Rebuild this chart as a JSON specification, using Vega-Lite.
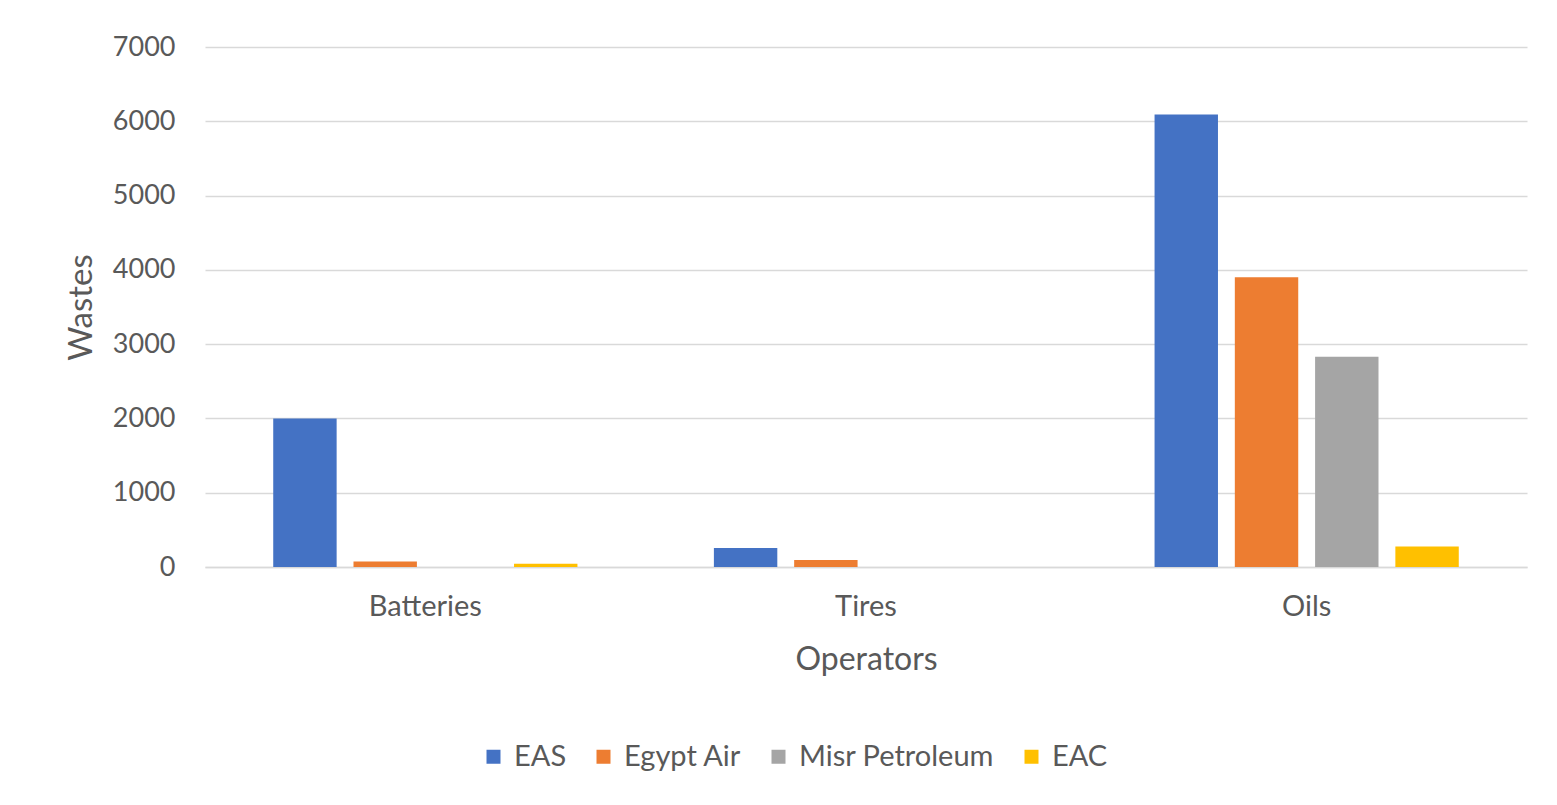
{
  "$schema": "https://vega.github.io/schema/vega-lite/v6.json",
  "width": 1322,
  "height": 520,
  "autosize": {"type": "none"},
  "padding": {"left": 205, "top": 47, "right": 30, "bottom": 238},
  "background": "white",
  "config": {
    "font": "Lato",
    "view": {"stroke": null},
    "axis": {"labelColor": "#595959", "titleColor": "#595959", "labelFont": "Lato", "titleFont": "Lato", "titleFontWeight": "normal"}
  },
  "data": {
    "values": [
      {"Category": "Batteries", "Operator": "EAS", "Wastes": 2000},
      {"Category": "Batteries", "Operator": "Egypt Air", "Wastes": 75},
      {"Category": "Batteries", "Operator": "Misr Petroleum", "Wastes": 0},
      {"Category": "Batteries", "Operator": "EAC", "Wastes": 45},
      {"Category": "Tires", "Operator": "EAS", "Wastes": 255},
      {"Category": "Tires", "Operator": "Egypt Air", "Wastes": 95},
      {"Category": "Tires", "Operator": "Misr Petroleum", "Wastes": 0},
      {"Category": "Tires", "Operator": "EAC", "Wastes": 0},
      {"Category": "Oils", "Operator": "EAS", "Wastes": 6090},
      {"Category": "Oils", "Operator": "Egypt Air", "Wastes": 3900},
      {"Category": "Oils", "Operator": "Misr Petroleum", "Wastes": 2830},
      {"Category": "Oils", "Operator": "EAC", "Wastes": 275}
    ]
  },
  "mark": {"type": "bar"},
  "encoding": {
    "x": {
      "field": "Category",
      "type": "nominal",
      "sort": ["Batteries", "Tires", "Oils"],
      "scale": {"paddingInner": 0, "paddingOuter": 0},
      "axis": {
        "title": "Operators",
        "titleFontSize": 32,
        "titlePadding": 23,
        "labelFontSize": 29,
        "labelAngle": 0,
        "labelPadding": 25,
        "ticks": false,
        "domain": true,
        "domainColor": "#d9d9d9",
        "domainWidth": 1.5,
        "grid": false
      }
    },
    "xOffset": {
      "field": "Operator",
      "type": "nominal",
      "sort": ["EAS", "Egypt Air", "Misr Petroleum", "EAC"],
      "scale": {"paddingInner": 0.21, "paddingOuter": 0.85}
    },
    "y": {
      "field": "Wastes",
      "type": "quantitative",
      "scale": {"domain": [0, 7000], "nice": false},
      "axis": {
        "title": "Wastes",
        "titleFontSize": 33,
        "titlePadding": 14,
        "labelFontSize": 27,
        "labelPadding": 30,
        "values": [0, 1000, 2000, 3000, 4000, 5000, 6000, 7000],
        "format": "d",
        "ticks": false,
        "domain": false,
        "grid": true,
        "gridColor": "#d9d9d9",
        "gridWidth": 1.5
      }
    },
    "color": {
      "field": "Operator",
      "type": "nominal",
      "sort": ["EAS", "Egypt Air", "Misr Petroleum", "EAC"],
      "scale": {
        "domain": ["EAS", "Egypt Air", "Misr Petroleum", "EAC"],
        "range": ["#4472C4", "#ED7D31", "#A5A5A5", "#FFC000"]
      },
      "legend": {
        "title": null,
        "orient": "none",
        "direction": "horizontal",
        "legendX": 274,
        "legendY": 695,
        "symbolType": "square",
        "symbolSize": 196,
        "symbolStrokeWidth": 0,
        "labelFontSize": 29,
        "labelColor": "#595959",
        "labelFont": "Lato",
        "labelOffset": 6,
        "labelLimit": 400,
        "columnPadding": 22
      }
    }
  }
}
